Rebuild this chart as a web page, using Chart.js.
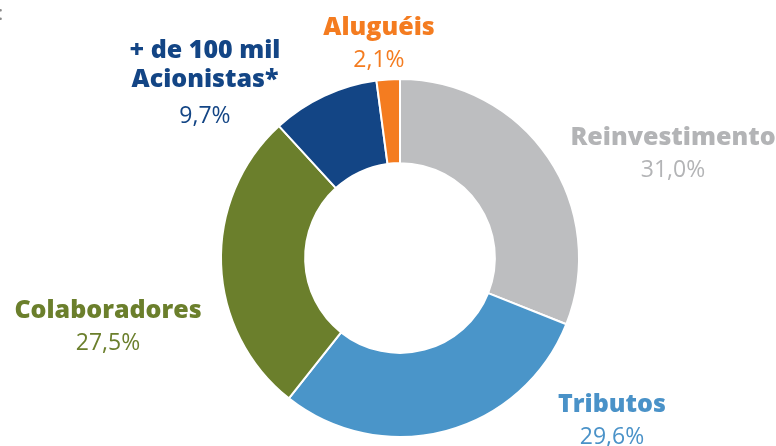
<!DOCTYPE html>
<html>
<head>
<meta charset="utf-8">
<script src="https://cdn.jsdelivr.net/npm/chart.js@4.4.0/dist/chart.umd.min.js"></script>
<style>
  html, body { margin: 0; padding: 0; background: #fff; }
  .wrap { position: relative; width: 776px; height: 446px; overflow: hidden; }
  .colon { position: absolute; left: -2px; top: -1px; font: 20px 'Open Sans', sans-serif; color: #8a8a8a; }
</style>
</head>
<body>
<div class="wrap">
  <div class="colon">:</div>
  <canvas id="chart" width="776" height="446"></canvas>
</div>
<script>
// distribuição do valor adicionado
const categories = ['Reinvestimento', 'Tributos', 'Colaboradores', '+ de 100 mil\nAcionistas*', 'Aluguéis'];
const values = [31.0, 29.6, 27.5, 9.7, 2.1];
const valueLabels = ['31,0%', '29,6%', '27,5%', '9,7%', '2,1%'];
const sliceColors = ['#bdbec0', '#4a95c9', '#6b7f2c', '#134585', '#f47c20'];
const textColors = ['#b3b4b6', '#4a92c8', '#6b7f2c', '#134585', '#f47c20'];

// where each label block sits, relative to the donut centre (x offset, baseline of first line)
const labelOffsets = [[273, -113], [212, 154], [-292, 60], [-195, -200], [-21, -223]];

const labelPlugin = {
  id: 'sliceLabels',
  afterDraw(chart) {
    const ctx = chart.ctx;
    const arc = chart.getDatasetMeta(0).data[0];
    const cx = arc.x, cy = arc.y;
    ctx.save();
    ctx.textAlign = 'center';
    ctx.textBaseline = 'alphabetic';
    categories.forEach((name, i) => {
      const [dx, dy] = labelOffsets[i];
      const lines = name.split('\n');
      let y = cy + dy;
      ctx.fillStyle = textColors[i];
      ctx.font = '800 25px "Open Sans", sans-serif';
      lines.forEach((ln, k) => {
        ctx.fillText(ln, cx + dx, y);
        if (k < lines.length - 1) y += 29;
      });
      ctx.font = '23px "Open Sans", sans-serif';
      const gap = lines.length > 1 ? 36 : 32;
      ctx.fillText(valueLabels[i], cx + dx, y + gap);
    });
    ctx.restore();
  }
};

new Chart(document.getElementById('chart'), {
  type: 'doughnut',
  data: {
    labels: categories,
    datasets: [{
      data: values,
      backgroundColor: sliceColors,
      borderColor: '#ffffff',
      borderWidth: 2,
      hoverOffset: 0
    }]
  },
  options: {
    responsive: false,
    animation: false,
    cutout: '53%',
    layout: { padding: { left: 220, right: 196, top: 78, bottom: 8 } },
    plugins: {
      legend: { display: false },
      tooltip: { enabled: false }
    }
  },
  plugins: [labelPlugin]
});
</script>
</body>
</html>
